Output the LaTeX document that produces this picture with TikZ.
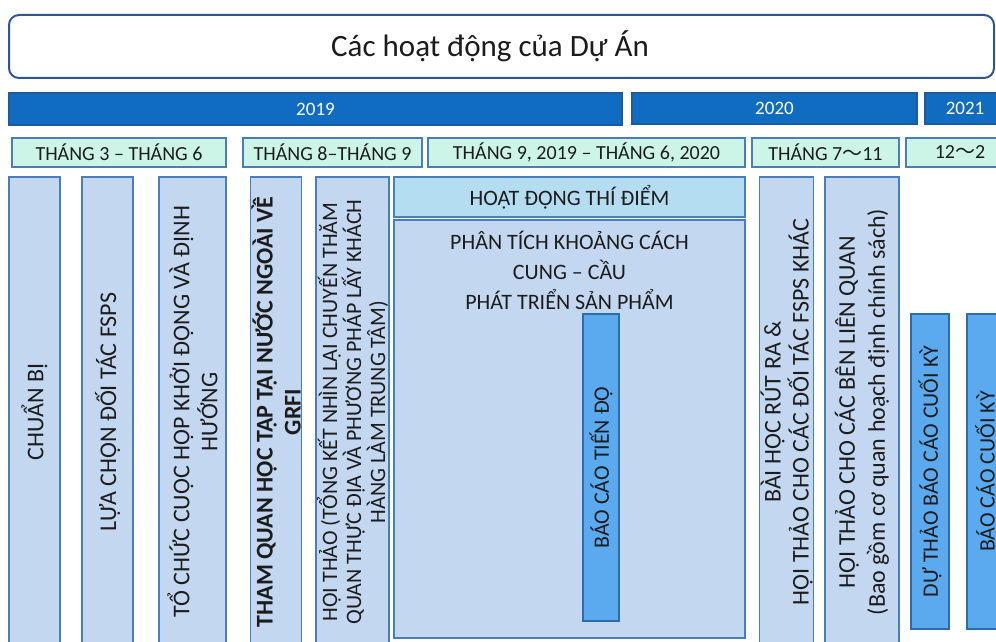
\documentclass[tikz,border=0pt]{standalone}
\usepackage{fontspec}
\setmainfont{Carlito}
\newfontfamily\cjkfont{Noto Sans CJK JP}
\newcommand{\wavedash}{{\cjkfont ～}}

\definecolor{TextColor}{RGB}{28,28,28}
\definecolor{TitleLine}{RGB}{47,85,151}
\definecolor{YearColor}{RGB}{16,108,192}
\definecolor{YearLine}{RGB}{30,90,160}
\definecolor{MonthColor}{RGB}{204,245,232}
\definecolor{BoxLine}{RGB}{74,126,187}
\definecolor{ActivityColor}{RGB}{195,216,240}
\definecolor{PilotColor}{RGB}{180,221,242}
\definecolor{ReportColor}{RGB}{91,169,239}
\definecolor{ReportLine}{RGB}{47,109,170}

\tikzstyle{base}=[rectangle,
                  draw=BoxLine,
                  line width=1.2pt,
                  inner sep=1pt,
                  text=TextColor,
                  align=center]
\tikzstyle{year}=[base, draw=YearLine, fill=YearColor, text=white, font=\fontsize{19}{21}\selectfont]
\tikzstyle{month}=[base, fill=MonthColor, minimum height=29pt, font=\fontsize{20}{22}\selectfont]
\tikzstyle{activity}=[base, fill=ActivityColor, rotate=90, minimum width=470pt, font=\fontsize{24}{28}\selectfont]
\tikzstyle{report}=[base, draw=ReportLine, fill=ReportColor, rotate=90, font=\fontsize{22}{25}\selectfont]

\begin{document}
\begin{tikzpicture}[x=1pt, y=-1pt]
    \useasboundingbox (0,0) rectangle (996,642);
    \clip (0,0) rectangle (996,642);

    % title
    \node at (501.5, 46.5) (title_box)  [rectangle, draw=TitleLine, line width=2pt, rounded corners=10pt,
                                         minimum width=985pt, minimum height=63pt] {};
    \node at (490.0, 46.5) (title_text) [text=TextColor, font=\fontsize{31}{34}\selectfont] {Các hoạt động của Dự Án};

    % years
    \node at (315.5, 109.0) (y2019) [year, minimum width=613pt, minimum height=32pt] {2019};
    \node at (774.5, 108.5) (y2020) [year, minimum width=285pt, minimum height=31pt] {2020};
    \node at (965.0, 108.5) (y2021) [year, minimum width=80pt,  minimum height=31pt] {2021};

    % months
    \node at (119.0, 152.5) (m_3_6)   [month, minimum width=214pt] {THÁNG 3 – THÁNG 6};
    \node at (332.5, 152.5) (m_8_9)   [month, minimum width=179pt] {THÁNG 8–THÁNG 9};
    \node at (586.5, 152.5) (m_9_6)   [month, minimum width=317pt] {THÁNG 9, 2019 – THÁNG 6, 2020};
    \node at (825.5, 152.5) (m_7_11)  [month, minimum width=147pt] {THÁNG 7\wavedash11};
    \node at (960.0, 152.5) (m_12_2)  [month, minimum width=108pt] {12\wavedash2};

    % activities
    \node at ( 34.5, 412.0) (chuan_bi)  [activity, minimum height=51pt] {CHUẨN BỊ};
    \node at (107.5, 412.0) (doi_tac)   [activity, minimum height=51pt] {LỰA CHỌN ĐỐI TÁC FSPS};
    \node at (192.5, 412.0) (khoi_dong) [activity, minimum height=67pt] {TỔ CHỨC CUỘC HỌP KHỞI ĐỘNG VÀ ĐỊNH\\HƯỚNG};
    \node at (276.0, 412.0) (tham_quan) [activity, minimum height=50pt, font=\fontsize{24}{28}\selectfont\bfseries]
                                        {THAM QUAN HỌC TẬP TẠI NƯỚC NGOÀI VỀ\\GRFI};
    \node at (352.5, 412.0) (hoi_thao)  [activity, minimum height=69pt, font=\fontsize{22}{24}\selectfont]
                                        {HỘI THẢO (TỔNG KẾT NHÌN LẠI CHUYẾN THĂM\\QUAN THỰC ĐỊA VÀ PHƯƠNG PHÁP LẤY KHÁCH\\HÀNG LÀM TRUNG TÂM)};

    % pilot
    \node at (569.5, 197.0) (thi_diem)  [base, fill=PilotColor, minimum width=351pt, minimum height=40pt,
                                         font=\fontsize{22}{25}\selectfont] {HOẠT ĐỘNG THÍ ĐIỂM};
    \node at (569.5, 429.0) (pilot_box) [base, fill=ActivityColor, minimum width=351pt, minimum height=418pt] {};
    \node at (569.5, 270.0) (phan_tich) [text=TextColor, align=center, font=\fontsize{22}{30}\selectfont]
                                        {PHÂN TÍCH KHOẢNG CÁCH\\CUNG – CẦU\\PHÁT TRIỂN SẢN PHẨM};
    \node at (601.0, 467.5) (tien_do)   [report, minimum width=307pt, minimum height=36pt] {BÁO CÁO TIẾN ĐỘ};

    % after pilot
    \node at (786.5, 412.0) (bai_hoc)   [activity, minimum height=51pt]
                                        {BÀI HỌC RÚT RA \&\\HỘI THẢO CHO CÁC ĐỐI TÁC FSPS KHÁC};
    \node at (862.0, 412.0) (lien_quan) [activity, minimum height=74pt, font=\fontsize{24}{30}\selectfont]
                                        {HỘI THẢO CHO CÁC BÊN LIÊN QUAN\\(Bao gồm cơ quan hoạch định chính sách)};
    \node at (930.0, 471.5) (du_thao)   [report, minimum width=315pt, minimum height=38pt] {DỰ THẢO BÁO CÁO CUỐI KỲ};
    \node at (985.0, 471.5) (cuoi_ky)   [report, minimum width=315pt, minimum height=36pt] {BÁO CÁO CUỐI KỲ};
\end{tikzpicture}
\end{document}
